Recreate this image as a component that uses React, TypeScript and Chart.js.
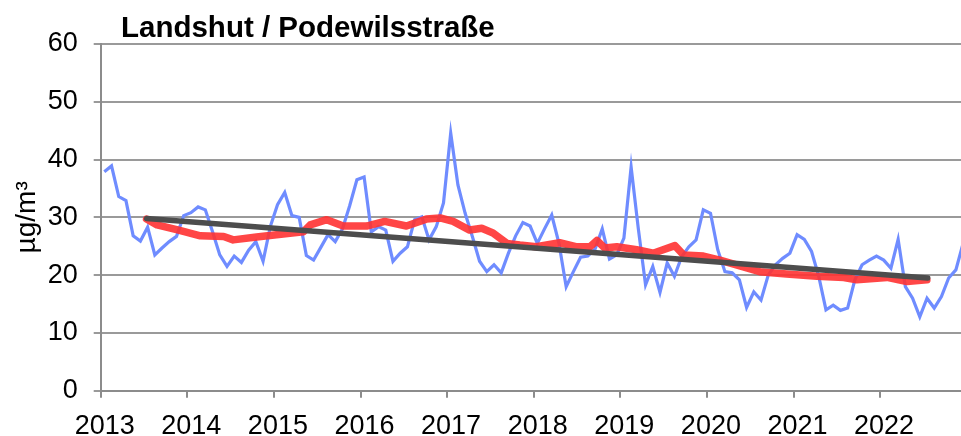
import React, { useEffect, useRef } from "react";
import { Chart, registerables } from "chart.js";

Chart.register(...registerables);

const TITLE = "Landshut / Podewilsstraße";
const Y_TITLE = "µg/m³";
const START_YEAR = 2013;
const YEAR_TICKS = [2013, 2014, 2015, 2016, 2017, 2018, 2019, 2020, 2021, 2022];
const Y_MIN = 0;
const Y_MAX = 60;
const Y_STEP = 10;

// Monthly mean values (Jan 2013 - Dec 2022)
const monthly2013 = [37.9, 38.9, 33.6, 32.9, 26.8, 25.9, 28.3, 23.5, 24.7, 25.8, 26.7, 30.3];
const monthly2014 = [30.8, 31.8, 31.3, 27.5, 23.5, 21.5, 23.3, 22.2, 24.3, 25.8, 22.4, 28.4];
const monthly2015 = [32.2, 34.3, 30.3, 30.0, 23.4, 22.6, 24.8, 27.0, 25.8, 28.0, 32.0, 36.5];
const monthly2016 = [37.0, 27.5, 28.4, 27.8, 22.4, 23.8, 24.9, 29.6, 30.1, 26.1, 28.4, 32.5];
const monthly2017 = [44.6, 35.6, 30.7, 26.7, 22.4, 20.6, 21.8, 20.4, 23.8, 26.8, 29.1, 28.5];
const monthly2018 = [25.5, 28.0, 30.4, 25.5, 18.0, 20.6, 23.1, 23.3, 24.5, 28.0, 22.8, 23.5];
const monthly2019 = [26.4, 38.7, 28.0, 18.3, 21.5, 17.0, 22.1, 19.8, 23.2, 24.9, 26.1, 31.3];
const monthly2020 = [30.7, 24.4, 20.6, 20.4, 19.2, 14.4, 17.1, 15.7, 20.0, 21.8, 22.9, 23.8];
const monthly2021 = [27.0, 26.2, 24.1, 19.8, 14.0, 14.8, 13.9, 14.3, 19.2, 21.8, 22.6, 23.3];
const monthly2022 = [22.6, 21.2, 26.2, 18.0, 16.0, 12.8, 16.0, 14.3, 16.3, 19.5, 20.9, 25.5];
const monthlyByYear = [
  monthly2013, monthly2014, monthly2015, monthly2016, monthly2017,
  monthly2018, monthly2019, monthly2020, monthly2021, monthly2022,
];

// Running annual mean
const runningX = [
  2013.53, 2013.65, 2013.90, 2014.15, 2014.42, 2014.53, 2014.80, 2015.03, 2015.34, 2015.42,
  2015.61, 2015.80, 2016.07, 2016.28, 2016.53, 2016.76, 2016.92, 2017.07, 2017.26, 2017.40,
  2017.53, 2017.69, 2017.84, 2018.03, 2018.30, 2018.50, 2018.65, 2018.73, 2018.82, 2018.96,
  2019.19, 2019.38, 2019.63, 2019.73, 2019.96, 2020.15, 2020.38, 2020.61, 2020.92, 2021.27,
  2021.58, 2021.73, 2022.08, 2022.31, 2022.54,
];
const runningY = [
  29.7, 28.7, 27.8, 26.8, 26.7, 26.1, 26.6, 27.0, 27.5, 28.7,
  29.6, 28.5, 28.5, 29.3, 28.5, 29.7, 29.9, 29.3, 27.8, 28.1,
  27.3, 25.5, 25.2, 24.9, 25.6, 24.9, 24.9, 26.0, 24.7, 24.9,
  24.4, 23.8, 25.1, 23.5, 23.3, 22.6, 21.6, 20.6, 20.2, 19.8,
  19.6, 19.2, 19.6, 18.9, 19.2,
];

// Linear trend
const trendX = [2013.53, 2022.55];
const trendY = [29.8, 19.5];

const FONT = '"Liberation Sans", Arial, sans-serif';

export default function App() {
  const ref = useRef<HTMLCanvasElement | null>(null);

  useEffect(() => {
    if (!ref.current) return;
    const monthlyPoints: { x: number; y: number }[] = [];
    monthlyByYear.forEach((vals, yi) => {
      vals.forEach((v, m) => {
        monthlyPoints.push({ x: START_YEAR + yi + (m + 0.5) / 12, y: v });
      });
    });
    const runningPoints = runningX.map((x, i) => ({ x, y: runningY[i] }));
    const trendPoints = trendX.map((x, i) => ({ x, y: trendY[i] }));

    const titlePlugin = {
      id: "titleText",
      afterDraw(chart: any) {
        const ctx = chart.ctx;
        ctx.save();
        ctx.font = `bold 29.5px ${FONT}`;
        ctx.fillStyle = "#000";
        ctx.textAlign = "left";
        ctx.textBaseline = "alphabetic";
        ctx.fillText(TITLE, 121, 37);
        ctx.restore();
      },
    };

    const chart = new Chart(ref.current, {
      type: "line",
      data: {
        datasets: [
          {
            data: trendPoints,
            borderColor: "#4d4d4d",
            borderWidth: 5.5,
            pointRadius: 0,
            fill: false,
            order: 1,
            borderCapStyle: "round",
          } as any,
          {
            data: runningPoints,
            borderColor: "rgba(255,50,50,0.9)",
            borderWidth: 7.5,
            pointRadius: 0,
            fill: false,
            order: 2,
            borderCapStyle: "round",
            borderJoinStyle: "round",
          } as any,
          {
            data: monthlyPoints,
            borderColor: "#6f8cff",
            borderWidth: 3.2,
            pointRadius: 0,
            fill: false,
            order: 3,
          } as any,
        ],
      },
      options: {
        animation: false,
        responsive: false,
        devicePixelRatio: 1,
        parsing: false as any,
        layout: { padding: { top: 44, left: 0, right: 0, bottom: 0 } },
        plugins: {
          legend: { display: false },
          tooltip: { enabled: false },
          title: { display: false },
        },
        scales: {
          x: {
            type: "linear",
            min: START_YEAR,
            max: START_YEAR + (961 - 100.7) / 86.6,
            afterBuildTicks: (scale: any) => {
              scale.ticks = YEAR_TICKS.map((v) => ({ value: v }));
            },
            afterFit: (scale: any) => {
              scale.height = 45.3;
            },
            ticks: {
              autoSkip: false,
              maxRotation: 0,
              minRotation: 0,
              padding: 13,
              labelOffset: 4,
              color: "#000",
              font: { family: FONT, size: 27 },
              callback: (v: any) => String(v),
            },
            grid: {
              drawOnChartArea: false,
              drawTicks: true,
              tickLength: 7,
              color: "#8c8c8c",
              lineWidth: 2,
            },
            border: { display: true, color: "#8c8c8c", width: 2 },
          },
          y: {
            min: Y_MIN,
            max: Y_MAX,
            afterFit: (scale: any) => {
              scale.width = 100.7;
            },
            ticks: {
              stepSize: Y_STEP,
              padding: 16,
              color: "#000",
              font: { family: FONT, size: 27 },
            },
            grid: {
              color: "#9a9a9a",
              lineWidth: 2,
              tickLength: 7,
              drawTicks: true,
            },
            border: { display: true, color: "#8c8c8c", width: 2 },
            title: {
              display: true,
              text: Y_TITLE,
              color: "#000",
              font: { family: FONT, size: 28 },
              padding: { top: 10, bottom: 0 },
            },
          },
        },
      },
      plugins: [titlePlugin],
    } as any);
    return () => chart.destroy();
  }, []);

  return (
    <div style={{ position: "absolute", left: 0, top: 0, width: 961, height: 436 }}>
      <canvas ref={ref} width={961} height={436} style={{ width: 961, height: 436, display: "block" }} />
    </div>
  );
}
